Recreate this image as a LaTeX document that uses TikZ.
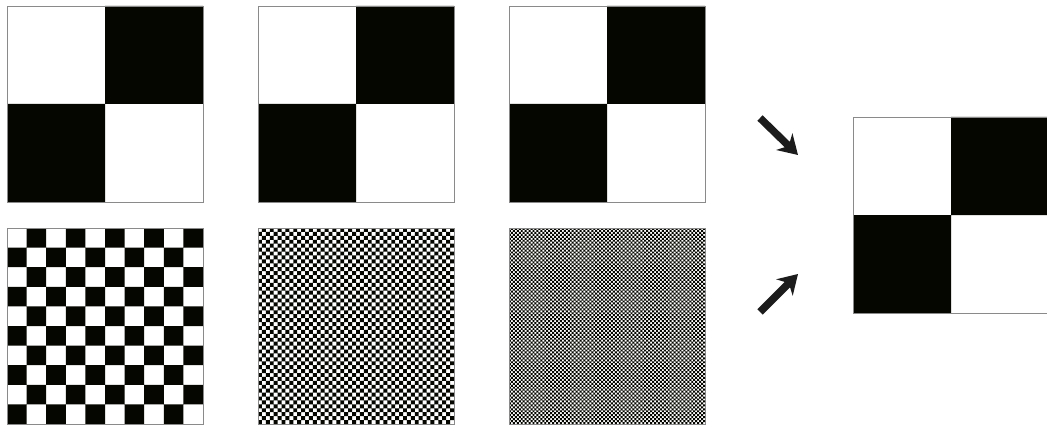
\documentclass[tikz,border=0pt]{standalone}
\usepackage{tikz}
\usetikzlibrary{arrows.meta,positioning}
\definecolor{Ink}{HTML}{050600}
\definecolor{Frame}{HTML}{8A8A8A}
\definecolor{ArrowGray}{HTML}{1C1C1C}
\tikzset{
  panel/.style={minimum size=196pt,inner sep=0pt,outer sep=0pt,anchor=north west},
  frame/.style={draw=Frame,line width=.8pt},
  checkfill/.style={fill=Ink,even odd rule},
  merge/.style={-{Stealth[length=19pt,width=23pt,inset=6pt]},draw=ArrowGray,line width=7.5pt},
}
\begin{document}
\begin{tikzpicture}[x=1pt,y=-1pt]
  \useasboundingbox (0,0) rectangle (1047,425);
  % top row: coarse boards, bottom row: finer and finer boards
  \node[panel] (t1) at (7,6) {};
  \node[panel] (t2) at (258,6) {};
  \node[panel] (t3) at (509,6) {};
  \node[panel] (b1) at (7,228) {};
  \node[panel] (b2) at (258,228) {};
  \node[panel] (b3) at (509,228) {};
  \node[panel] (res) at (853,117) {};
  \foreach \p/\n in {t1/2,t2/2,t3/2,b1/10,b2/50,b3/100,res/2}{
    \pgfmathsetmacro\c{196/\n}
    \pgfmathtruncatemacro\h{\n/2}
    \begin{scope}[shift={(\p.north west)},x=\c pt,y=-\c pt]
      \fill[checkfill] \foreach \k in {1,...,\h}{(0,2*\k-1) rectangle (\n,2*\k) (2*\k-1,0) rectangle (2*\k,\n)};
    \end{scope}
    \draw[frame] (\p.north west) rectangle (\p.south east);
  }
  % arrows into the result
  \coordinate (up0) at (760,118);
  \coordinate (up1) at (798,155);
  \coordinate (lo0) at (760,312);
  \coordinate (lo1) at (798,274);
  \draw[merge] (up0) -- (up1);
  \draw[merge] (lo0) -- (lo1);
\end{tikzpicture}
\end{document}
